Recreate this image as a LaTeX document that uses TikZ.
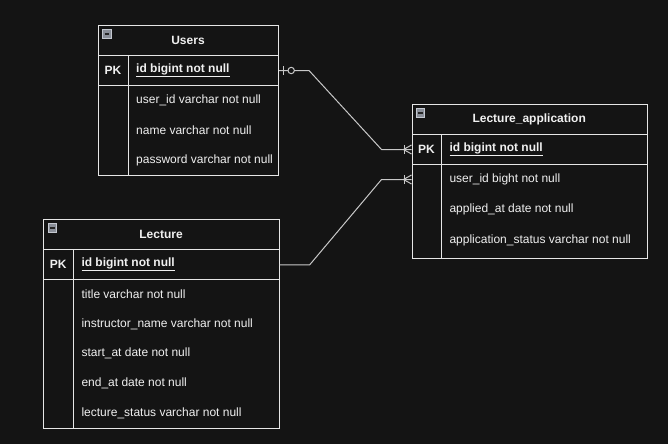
\documentclass[tikz,border=0pt]{standalone}
\usepackage{fontspec}
\setmainfont{Liberation Sans}
\usetikzlibrary{calc}
\definecolor{bgc}{HTML}{141414}
\definecolor{linec}{HTML}{E6E6E6}
\definecolor{connc}{HTML}{C8C8C8}
\definecolor{txtc}{HTML}{F0F0F0}
\definecolor{iconfill}{HTML}{8A8F99}
\definecolor{iconedge}{HTML}{C4C8D0}
\begin{document}
\begin{tikzpicture}[x=1pt,y=-1pt,
  tbl/.style={draw=linec, line width=1pt, fill=bgc, inner sep=0pt, anchor=north west},
  rowbox/.style={draw=linec, line width=1pt, inner sep=0pt, anchor=north west},
  ttl/.style={text=txtc, font=\fontsize{12}{14}\selectfont\bfseries},
  pk/.style={text=txtc, font=\fontsize{12}{14}\selectfont\bfseries},
  fld/.style={text=txtc, font=\fontsize{12}{14}\selectfont, anchor=west, inner sep=0pt},
  pkfld/.style={text=txtc, font=\fontsize{12}{14}\selectfont\bfseries, anchor=west, inner sep=0pt},
  conn/.style={draw=connc, line width=1pt},
  icon/.style={draw=iconedge, fill=iconfill, line width=0.8pt, minimum size=8.5pt, inner sep=0pt, path picture={\draw[line width=1.3pt, black!85] ([xshift=1.8pt]path picture bounding box.west) -- ([xshift=-1.8pt]path picture bounding box.east);}}
]
\useasboundingbox[fill=bgc] (0,0) rectangle (668,444);

% ---------- Users ----------
\node[tbl, minimum width=180pt, minimum height=150pt] (users) at (98,25) {};
\node[rowbox, minimum width=180pt, minimum height=30pt] (uPK) at (98,55) {};
\draw[draw=linec, line width=1pt] (128,55) -- (128,175);
\node[icon] (uicon) at (107,34) {};
\node[ttl] (uttl) at (188,40) {Users};
\node[pk] (upkl) at (113,70) {PK};
\node[pkfld] (uf0) at (136,70) {\underline{id bigint not null}};
\node[fld] (uf1) at (136,100) {user\_id varchar not null};
\node[fld] (uf2) at (136,130) {name varchar not null};
\node[fld] (uf3) at (136,160) {password varchar not null};

% ---------- Lecture_application ----------
\node[tbl, minimum width=235.5pt, minimum height=153.5pt] (la) at (411.5,104) {};
\node[rowbox, minimum width=235.5pt, minimum height=30pt] (laPK) at (411.5,134) {};
\coordinate (laUser) at (411.5,179.5);
\draw[draw=linec, line width=1pt] (441.3,134) -- (441.3,257.5);
\node[icon] (laicon) at (420.3,113) {};
\node[ttl] (lattl) at (529.2,119) {Lecture\_application};
\node[pk] (lapkl) at (426.4,149) {PK};
\node[pkfld] (laf0) at (449.3,149) {\underline{id bigint not null}};
\node[fld] (laf1) at (449.3,179) {user\_id bight not null};
\node[fld] (laf2) at (449.3,209.5) {applied\_at date not null};
\node[fld] (laf3) at (449.3,240.5) {application\_status varchar not null};

% ---------- Lecture ----------
\node[tbl, minimum width=235.4pt, minimum height=209pt] (lec) at (43.3,219.3) {};
\node[rowbox, minimum width=235.4pt, minimum height=30pt] (lecPK) at (43.3,249.3) {};
\draw[draw=linec, line width=1pt] (73.3,249.3) -- (73.3,428.3);
\node[icon] (lecicon) at (52.5,228) {};
\node[ttl] (lecttl) at (161,234.3) {Lecture};
\node[pk] (lecpkl) at (58.3,264.3) {PK};
\node[pkfld] (lecf0) at (81.3,264.3) {\underline{id bigint not null}};
\node[fld] (lecf1) at (81.3,294) {title varchar not null};
\node[fld] (lecf2) at (81.3,324) {instructor\_name varchar not null};
\node[fld] (lecf3) at (81.3,353.5) {start\_at date not null};
\node[fld] (lecf4) at (81.3,383) {end\_at date not null};
\node[fld] (lecf5) at (81.3,413) {lecture\_status varchar not null};

% ---------- Connectors ----------
% Users.id -> Lecture_application (one-optional to many)
\draw[conn] (uPK.east) -- ++(30,0) -- ($(laPK.west)+(-30,0)$) -- (laPK.west);
\draw[conn] ($(uPK.east)+(4.7,-4.5)$) -- ++(0,9);
\draw[conn, fill=bgc] ($(uPK.east)+(12.2,0)$) circle (3.2);
\draw[conn] ($(laPK.west)+(-7.5,-4.5)$) -- ++(0,9);
\draw[conn] ($(laPK.west)+(-8,0)$) -- ($(laPK.west)+(0,-4.5)$);
\draw[conn] ($(laPK.west)+(-8,0)$) -- ($(laPK.west)+(0,4.5)$);

% Lecture.id -> Lecture_application (many)
\draw[conn] (lecPK.east) -- ++(30,0) -- ($(laUser)+(-30,0)$) -- (laUser);
\draw[conn] ($(laUser)+(-7.5,-4.5)$) -- ++(0,9);
\draw[conn] ($(laUser)+(-8,0)$) -- ($(laUser)+(0,-4.5)$);
\draw[conn] ($(laUser)+(-8,0)$) -- ($(laUser)+(0,4.5)$);
\end{tikzpicture}
\end{document}
